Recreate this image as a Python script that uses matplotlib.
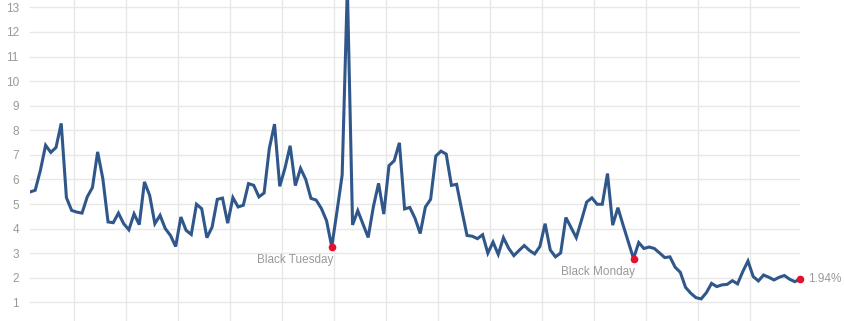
import matplotlib
matplotlib.use("Agg")
import matplotlib.pyplot as plt
import numpy as np

plt.rcParams['font.family'] = ['Liberation Sans', 'DejaVu Sans']

# S&P 500 dividend yield (%), one value per year
years = list(range(1871, 2020))
dividend_yield = [
    5.49, 5.56, 6.37, 7.39, 7.10, 7.30, 8.28, 5.26, 4.74, 4.67,   # 1871-1880
    4.63, 5.29, 5.67, 7.12, 6.03, 4.27, 4.24, 4.63, 4.20, 3.95,   # 1881-1890
    4.60, 4.16, 5.90, 5.35, 4.20, 4.54, 4.00, 3.72, 3.27, 4.47,   # 1891-1900
    3.93, 3.76, 4.99, 4.81, 3.63, 4.06, 5.19, 5.24, 4.22, 5.26,   # 1901-1910
    4.88, 4.95, 5.83, 5.76, 5.29, 5.45, 7.26, 8.25, 5.72, 6.45,   # 1911-1920
    7.37, 5.75, 6.45, 6.00, 5.23, 5.16, 4.82, 4.32, 3.26, 4.69,   # 1921-1930
    6.18, 13.84, 4.15, 4.73, 4.19, 3.64, 4.89, 5.84, 4.59, 6.56,  # 1931-1940
    6.76, 7.49, 4.80, 4.86, 4.42, 3.80, 4.88, 5.19, 6.95, 7.15,   # 1941-1950
    7.03, 5.76, 5.80, 4.74, 3.72, 3.69, 3.59, 3.75, 3.00, 3.45,   # 1951-1960
    2.95, 3.63, 3.20, 2.90, 3.11, 3.31, 3.11, 2.97, 3.27, 4.20,   # 1961-1970
    3.13, 2.85, 3.01, 4.45, 4.04, 3.63, 4.34, 5.08, 5.25, 4.99,   # 1971-1980
    4.99, 6.24, 4.14, 4.85, 4.14, 3.46, 2.78, 3.43, 3.19, 3.25,   # 1981-1990
    3.19, 3.01, 2.82, 2.85, 2.43, 2.22, 1.61, 1.37, 1.19, 1.14,   # 1991-2000
    1.39, 1.77, 1.64, 1.71, 1.73, 1.88, 1.75, 2.25, 2.68, 2.05,   # 2001-2010
    1.87, 2.11, 2.02, 1.91, 2.02, 2.09, 1.94, 1.84, 1.94,         # 2011-2019
]

events = {1929: 'Black Tuesday', 1987: 'Black Monday'}
y_ticks = list(range(1, 14))

line_color = '#30578a'
dot_color = '#e3102f'
text_color = '#999999'
grid_color = '#e8e8e8'

fig = plt.figure(figsize=(8.45, 3.21), dpi=100)
ax = fig.add_axes([30 / 845, 0, 770 / 845, 1])

ax.plot(years, dividend_yield, color=line_color, lw=2.2, solid_joinstyle='miter', zorder=3)

# red markers + labels for the crashes
for yr, name in events.items():
    val = dividend_yield[years.index(yr)]
    ax.plot(yr, val, 'o', color=dot_color, ms=4.5, zorder=4)
    ax.annotate(name, (yr, val), xytext=(1, -9.5), textcoords='offset points',
                ha='right', va='center', color=text_color, fontsize=8.5)

# latest value
ax.plot(years[-1], dividend_yield[-1], 'o', color=dot_color, ms=4.5, zorder=4, clip_on=False)
ax.annotate(f'{dividend_yield[-1]:.2f}%', (years[-1], dividend_yield[-1]), xytext=(6, 0),
            textcoords='offset points', ha='left', va='center', color=text_color,
            fontsize=8.5, annotation_clip=False)

ax.set_xlim(years[0], years[-1])
ax.set_ylim(0.24, 13.30)
ax.set_yticks(y_ticks)
ax.set_xticks(np.arange(1879.4, 2019, 10))
ax.set_xticklabels([])
ax.tick_params(axis='both', length=0, labelsize=8.5, labelcolor=text_color, pad=8)
ax.grid(True, color=grid_color, lw=1)
ax.set_axisbelow(True)
for s in ax.spines.values():
    s.set_visible(False)

fig.savefig('out.png', dpi=100)
